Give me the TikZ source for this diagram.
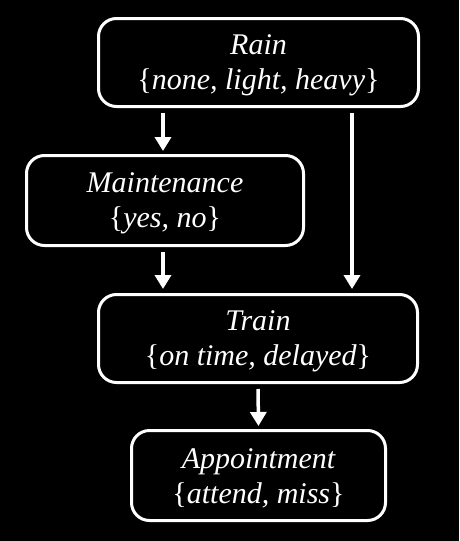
\documentclass[tikz,border=0pt]{standalone}
\usepackage{fontspec}
\setmainfont{Liberation Serif}
\usetikzlibrary{arrows.meta}
\begin{document}
\begin{tikzpicture}[x=1pt,y=-1pt,
  var/.style={draw=white, line width=3pt, rounded corners=18pt, fill=black,
    inner sep=0pt},
  lbl/.style={text=white, align=center, inner sep=0pt,
    font=\fontsize{30}{35}\selectfont\itshape},
  arr/.style={draw=white, line width=3.5pt,
    -{Triangle[width=16pt,length=14pt]}}]
\fill[black] (0,0) rectangle (459,541);
\useasboundingbox (0,0) rectangle (459,541);
\node[var, minimum width=320pt, minimum height=88pt] (rain) at (258.5,62.5) {};
\node[lbl] (rainT) at ([yshift=-3pt]rain.center)
  {Rain\\\upshape\{\itshape none, light, heavy\upshape\}};
\node[var, minimum width=277pt, minimum height=90pt] (mnt) at (165,200.5) {};
\node[lbl] (mntT) at ([yshift=-3pt]mnt.center)
  {Maintenance\\\upshape\{\itshape yes, no\upshape\}};
\node[var, minimum width=319pt, minimum height=88pt] (train) at (258,338.5) {};
\node[lbl] (trainT) at ([yshift=-3pt]train.center)
  {Train\\\upshape\{\itshape on time, delayed\upshape\}};
\node[var, minimum width=254pt, minimum height=90pt] (appt) at (258.5,475.5) {};
\node[lbl] (apptT) at ([yshift=-3pt]appt.center)
  {Appointment\\\upshape\{\itshape attend, miss\upshape\}};
\draw[arr, shorten <=5pt, shorten >=3pt] ([xshift=-95.5pt]rain.south) -- ([xshift=-2pt]mnt.north);
\draw[arr, shorten <=5pt, shorten >=4pt] ([xshift=93.5pt]rain.south) -- ([xshift=94pt]train.north);
\draw[arr, shorten <=5pt, shorten >=4pt] ([xshift=-2pt]mnt.south) -- ([xshift=-95pt]train.north);
\draw[arr, shorten <=5pt, shorten >=3pt] (train.south) -- (appt.north);
\end{tikzpicture}
\end{document}
